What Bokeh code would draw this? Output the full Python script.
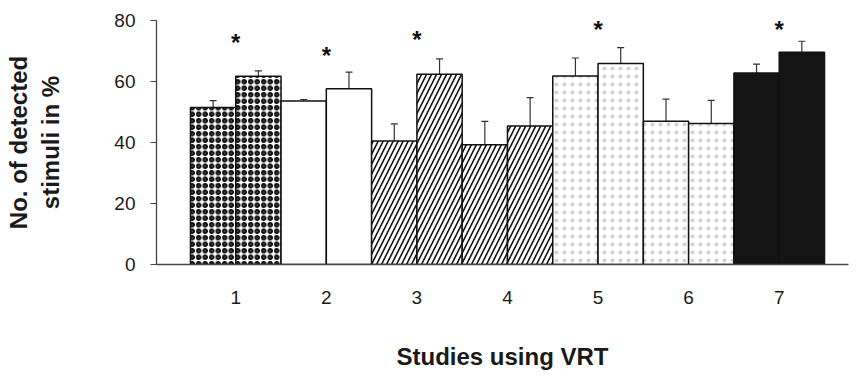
from bokeh.plotting import figure
from bokeh.models import Range1d, FixedTicker, Whisker, TeeHead, ColumnDataSource
from bokeh.embed import file_html
from bokeh.resources import INLINE
from bokeh.core.properties import value

# ---- data ----
studies = ["1", "2", "3", "4", "5", "6", "7"]
bar_values = [51.5, 61.7, 53.6, 57.6, 40.5, 62.4, 39.3, 45.4, 61.8, 65.9, 47.0, 46.2, 62.8, 69.6]
bar_errors = [2.2, 1.8, 0.5, 5.5, 5.6, 5.0, 7.6, 9.3, 5.9, 5.2, 7.2, 7.6, 2.9, 3.6]
significant = ["1", "2", "3", "5", "7"]
star_heights = [72.8, 68.4, 73.9, 77.1, 77.1]
y_ticks = [0, 20, 40, 60, 80]

FONT = "Liberation Sans"

# ---- styles per study ----
styles = [
    dict(fill_color="white", hatch_pattern="ring", hatch_color="#0a0a0a", hatch_scale=6.5, hatch_weight=2.2),
    dict(fill_color="white", hatch_pattern=None),
    dict(fill_color="white", hatch_pattern="right_diagonal_line", hatch_color="#111111", hatch_scale=10, hatch_weight=1.6),
    dict(fill_color="white", hatch_pattern="right_diagonal_line", hatch_color="#111111", hatch_scale=10, hatch_weight=1.6),
    dict(fill_color="white", hatch_pattern="dot", hatch_color="#d2d2d2", hatch_scale=8, hatch_weight=0.6),
    dict(fill_color="white", hatch_pattern="dot", hatch_color="#d2d2d2", hatch_scale=8, hatch_weight=0.6),
    dict(fill_color="#141414", hatch_pattern=None),
]

n_bars = len(bar_values)
bar_x = [i + 0.5 for i in range(n_bars)]
study_x = [2 * k + 1 for k in range(len(studies))]

p = figure(
    frame_width=692, frame_height=244,
    min_border_top=20, min_border_left=156, min_border_right=5, min_border_bottom=0,
    x_range=Range1d(-0.75, 14.53), y_range=Range1d(0, 80),
    output_backend="svg", toolbar_location=None,
)
p.outline_line_color = None
p.xgrid.visible = False
p.ygrid.visible = False
p.background_fill_color = "white"
p.border_fill_color = "white"

for k, st in enumerate(styles):
    xs = bar_x[2 * k:2 * k + 2]
    tops = bar_values[2 * k:2 * k + 2]
    kw = dict(st)
    if kw.get("hatch_pattern") is None:
        kw.pop("hatch_pattern")
    p.vbar(x=xs, top=tops, bottom=0, width=1.0, line_color="#111111", line_width=1.5, **kw)

err_src = ColumnDataSource(dict(
    x=bar_x,
    lower=bar_values,
    upper=[v + e for v, e in zip(bar_values, bar_errors)],
))
p.add_layout(Whisker(source=err_src, base="x", lower="lower", upper="upper",
                     dimension="height", line_color="#333333", line_width=1.2,
                     upper_head=TeeHead(size=7, line_color="#333333", line_width=1.2),
                     lower_head=None))

star_x = [study_x[studies.index(s)] for s in significant]
p.text(x=star_x, y=star_heights, text=["*"] * len(star_x), text_align="center",
       text_baseline="middle", text_font=value(FONT), text_font_size="24px",
       text_font_style="bold", text_color="#111111")

# ---- axes ----
xa = p.xaxis[0]
xa.ticker = FixedTicker(ticks=study_x)
xa.major_label_overrides = {x: s for x, s in zip(study_x, studies)}
xa.major_tick_out = 0
xa.major_tick_in = 0
xa.minor_tick_out = 0
xa.minor_tick_in = 0
xa.axis_line_color = "#444444"
xa.axis_line_width = 1.3
xa.major_label_standoff = 26
xa.major_label_text_font = FONT
xa.major_label_text_font_size = "19px"
xa.major_label_text_color = "#1a1a1a"
xa.axis_label = "Studies using VRT"
xa.axis_label_text_font = FONT
xa.axis_label_text_font_size = "24px"
xa.axis_label_text_font_style = "bold"
xa.axis_label_text_color = "#1a1a1a"
xa.axis_label_standoff = 36

ya = p.yaxis[0]
ya.ticker = FixedTicker(ticks=y_ticks)
ya.major_tick_out = 6
ya.major_tick_in = 0
ya.minor_tick_out = 0
ya.minor_tick_in = 0
ya.major_tick_line_color = "#444444"
ya.axis_line_color = "#444444"
ya.axis_line_width = 1.3
ya.major_label_standoff = 15
ya.major_label_text_font = FONT
ya.major_label_text_font_size = "19px"
ya.major_label_text_color = "#1a1a1a"
ya.axis_label = "No. of detected\nstimuli in %"
ya.axis_label_text_font = FONT
ya.axis_label_text_font_size = "24px"
ya.axis_label_text_font_style = "bold"
ya.axis_label_text_color = "#1a1a1a"
ya.axis_label_standoff = 47

open("out.html", "w").write(file_html(p, INLINE))
